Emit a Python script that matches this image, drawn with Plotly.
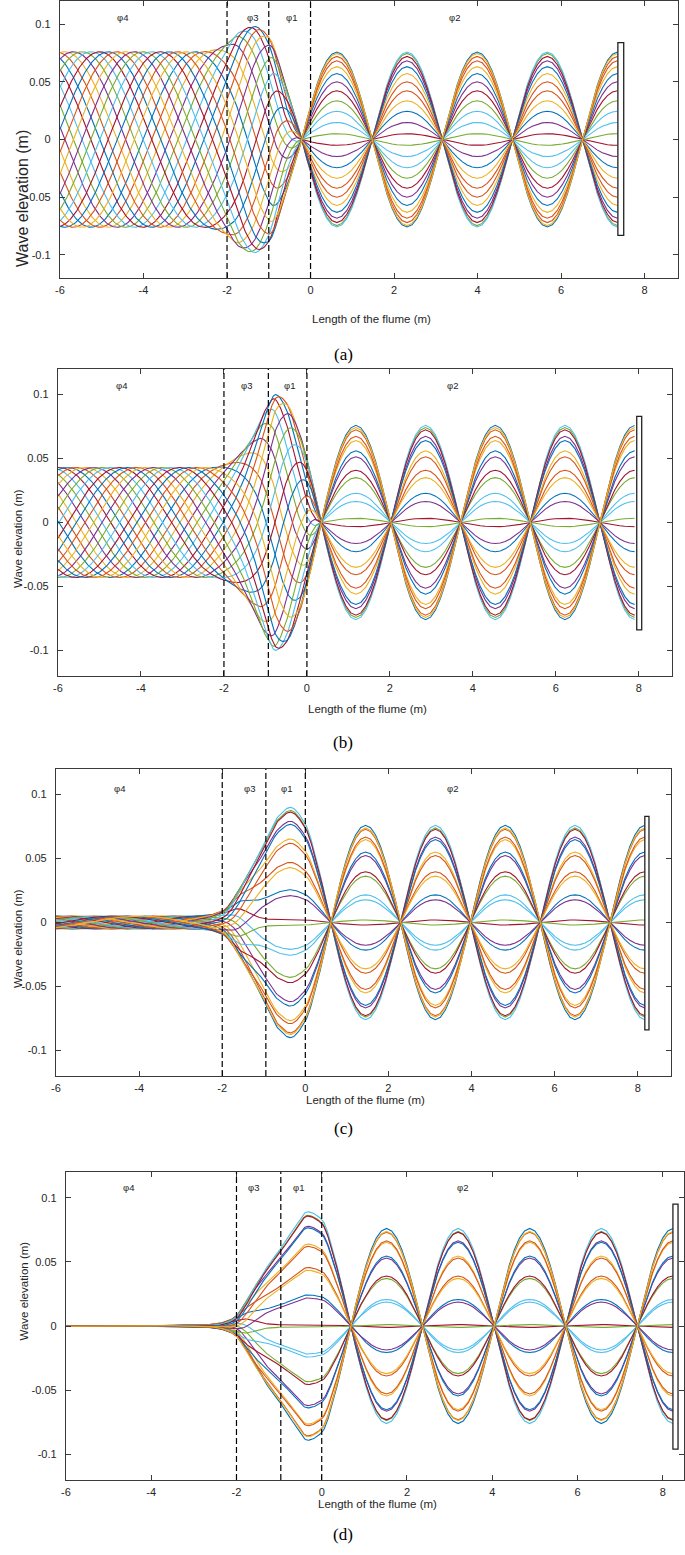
import numpy as np
import plotly.graph_objects as go

# ---------------- values ----------------
LINE_COLORS = ['#0072BD', '#D95319', '#EDB120', '#7E2F8E', '#77AC30', '#4DBEEE', '#A2142F']

panel_names = ['(a)', '(b)', '(c)', '(d)']
x_axis_max = [8.8, 8.8, 8.8, 8.5]
x_ticks = [-6, -4, -2, 0, 2, 4, 6, 8]
y_ticks = [-0.1, -0.05, 0, 0.05, 0.1]
y_tick_text = ['-0.1', '-0.05', '0', '0.05', '0.1']

# dashed region boundaries (m)
region_bounds = [[-2, -1.0, 0], [-2, -0.93, 0], [-2, -0.95, 0], [-2, -0.96, 0]]
region_label_text = ['φ4', 'φ3', 'φ1', 'φ2']
region_label_x = [[-4.5, -1.39, -0.46, 3.45], [-4.48, -1.45, -0.43, 3.5],
                  [-4.47, -1.35, -0.46, 3.53], [-4.53, -1.6, -0.54, 3.3]]
region_label_y = [0.106, 0.107, 0.105, 0.108]

# reflecting wall (curves end at wall_x), drawn as a thin box
wall_x = [7.35, 7.90, 8.17, 8.24]
wall_box_x0 = [7.36, 7.95, 8.17, 8.24]
wall_box_x1 = [7.50, 8.07, 8.27, 8.36]
wall_box_y0 = [-0.083, -0.084, -0.084, -0.096]
wall_box_y1 = [0.084, 0.083, 0.083, 0.095]

# standing wave in region phi2
standing_amp = [0.076, 0.076, 0.076, 0.076]
standing_wavelength = 3.36
first_node_x = [-0.21, 0.34, 0.61, 0.68]

# wave on the up-wave side
upwave_wavelength = 5.0
progressive_from_x = [-0.21, 0.34, -1.3, -1.6]

# snapshot phases (deg) and per-panel offset
snapshot_phase_deg = [0, 15, 30, 45, 60, 75, 90, 105, 120, 135, 150, 165,
                      180, 195, 210, 225, 240, 255, 270, 285, 300, 315, 330, 345]
phase_offset_deg = [3.8, 2.5, 1.5, 0.8]

# envelope of the wave left of the first node (x in m, amplitude in m)
env_x_a = [-6, -2.6, -2.2, -2.0, -1.7, -1.35, -1.0, -0.6, -0.21]
env_v_a = [0.076, 0.076, 0.079, 0.083, 0.093, 0.098, 0.089, 0.047, 0.0]
env_x_b = [-6, -2.3, -2.0, -1.6, -1.3, -1.0, -0.75, -0.5, -0.2, 0.0, 0.34]
env_v_b = [0.043, 0.043, 0.045, 0.054, 0.068, 0.088, 0.100, 0.094, 0.072, 0.05, 0.0]
env_x_c = [-6, -2.5, -2.0, -1.5, -1.0, -0.65, -0.36, 0.0, 0.3, 0.61]
env_v_c = [0.005, 0.005, 0.009, 0.031, 0.061, 0.083, 0.090, 0.077, 0.045, 0.0]
env_x_d = [-6, -3.0, -2.5, -2.2, -2.0, -1.8, -1.5, -1.2, -0.95, -0.65, -0.33, 0.0, 0.35, 0.68]
env_v_d = [0.0003, 0.0005, 0.0015, 0.004, 0.008, 0.018, 0.035, 0.050, 0.061, 0.076, 0.089, 0.083, 0.048, 0.0]
env_x = [env_x_a, env_x_b, env_x_c, env_x_d]
env_v = [env_v_a, env_v_b, env_v_c, env_v_d]

# panel placement in pixels (left, right, top, bottom)
panel_px = [(60, 678, 1, 278), (58, 672, 369, 676), (56, 671, 769, 1076), (66, 684, 1172, 1480)]
xtitle_y_px = [311, 709, 1108, 1512]
label_y_px = [343, 742, 1140, 1546]
ytitle_y_px = [128, 539, 939, 1343]
ytitle_x_px = [12, 10, 10, 15]
ytitle_size = [16, 11.5, 11.5, 11.5]

W, H = 685, 1555


def pchip(xk, yk, x):
    xk = np.asarray(xk, float)
    yk = np.asarray(yk, float)
    h = np.diff(xk)
    d = np.diff(yk) / h
    m = np.zeros_like(yk)
    for i in range(1, len(xk) - 1):
        if d[i - 1] * d[i] > 0:
            w1 = 2 * h[i] + h[i - 1]
            w2 = h[i] + 2 * h[i - 1]
            m[i] = (w1 + w2) / (w1 / d[i - 1] + w2 / d[i])
    m[0] = d[0]
    m[-1] = d[-1]
    idx = np.clip(np.searchsorted(xk, x, side='right') - 1, 0, len(xk) - 2)
    t = (x - xk[idx]) / h[idx]
    h00 = 2 * t**3 - 3 * t**2 + 1
    h10 = t**3 - 2 * t**2 + t
    h01 = -2 * t**3 + 3 * t**2
    h11 = t**3 - t**2
    return h00 * yk[idx] + h10 * h[idx] * m[idx] + h01 * yk[idx + 1] + h11 * h[idx] * m[idx + 1]


fig = go.Figure()
k2 = 2 * np.pi / standing_wavelength
k4 = 2 * np.pi / upwave_wavelength

for p in range(4):
    ax = '' if p == 0 else str(p + 1)
    xa, ya = 'x' + ax, 'y' + ax
    xn = first_node_x[p]
    xl = np.append(np.arange(-6.0, xn, 0.02), xn)
    xr = np.append(np.arange(xn, wall_x[p], 0.12)[1:], wall_x[p])
    env = pchip(env_x[p], env_v[p], xl)
    s = 0.15
    psi = -k4 * s * np.logaddexp(0, (progressive_from_x[p] - xl) / s)
    psi = psi - psi[-1]
    stand = standing_amp[p] * np.sin(k2 * (xr - xn))
    xs = np.concatenate([xl, xr])
    for j, ph in enumerate(snapshot_phase_deg):
        th = np.deg2rad(ph + phase_offset_deg[p])
        yl = -env * np.cos(psi - th)
        yr = stand * np.cos(th)
        fig.add_trace(go.Scatter(x=xs, y=np.concatenate([yl, yr]), mode='lines',
                                 line=dict(color=LINE_COLORS[j % 7], width=1.1),
                                 xaxis=xa, yaxis=ya, showlegend=False, hoverinfo='skip'))

    l, r, t, b = panel_px[p]
    axis_common = dict(showline=True, linecolor='#3a3a3a', linewidth=1.3, mirror='ticks',
                       ticks='inside', ticklen=5, tickwidth=1.1, tickcolor='#3a3a3a',
                       showgrid=False, zeroline=False, automargin=False,
                       tickfont=dict(family='Liberation Sans, Arial', size=11, color='#262626'))
    fig.update_layout(**{
        'xaxis' + ax: dict(domain=[l / W, r / W], range=[-6, x_axis_max[p]], anchor=ya,
                           tickvals=x_ticks, ticktext=[str(v) for v in x_ticks],
                           ticklabelstandoff=2, **axis_common),
        'yaxis' + ax: dict(domain=[1 - b / H, 1 - t / H], range=[-0.12, 0.12], anchor=xa,
                           tickvals=y_ticks, ticktext=y_tick_text, ticklabelstandoff=6,
                           **axis_common),
    })

    for xb in region_bounds[p]:
        fig.add_shape(type='line', xref=xa, yref=ya + ' domain', x0=xb, x1=xb, y0=0, y1=1,
                      line=dict(color='black', width=1.2, dash='6px,3px'))
    fig.add_shape(type='rect', xref=xa, yref=ya, x0=wall_box_x0[p], x1=wall_box_x1[p],
                  y0=wall_box_y0[p], y1=wall_box_y1[p], fillcolor='white',
                  line=dict(color='#222222', width=1.3), layer='above')
    for lx, lt in zip(region_label_x[p], region_label_text):
        fig.add_annotation(x=lx, y=region_label_y[p], xref=xa, yref=ya, text=lt, showarrow=False,
                           font=dict(family='Liberation Sans, Arial', size=9.5, color='#222222'))
    fig.add_annotation(x=((l + r) / 2 + 2) / W, y=1 - xtitle_y_px[p] / H, xref='paper', yref='paper',
                       text='Length of the flume (m)', showarrow=False,
                       font=dict(family='Liberation Sans, Arial', size=11.5, color='#262626'))
    fig.add_annotation(x=ytitle_x_px[p] / W, y=1 - ytitle_y_px[p] / H, xref='paper', yref='paper',
                       text='Wave elevation (m)', textangle=-90, showarrow=False,
                       font=dict(family='Liberation Sans, Arial', size=ytitle_size[p], color='#262626'))
    fig.add_annotation(x=343 / W, y=1 - label_y_px[p] / H, xref='paper', yref='paper',
                       text=panel_names[p], showarrow=False,
                       font=dict(family='Liberation Serif, Times New Roman', size=17, color='black'))

fig.update_layout(width=W, height=H, margin=dict(l=0, r=0, t=0, b=0, autoexpand=False),
                  template='none', paper_bgcolor='white', plot_bgcolor='white', showlegend=False)
fig.write_html('out.html', config={'displayModeBar': False},
               post_script="document.body.style.margin='0';document.body.style.padding='0';"
                           "document.documentElement.style.overflow='hidden';")
